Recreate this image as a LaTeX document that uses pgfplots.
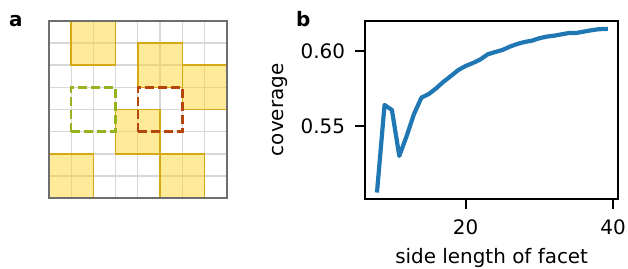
\documentclass[border=0pt]{standalone}
\usepackage{fontspec}
\setmainfont{DejaVu Sans}
\usepackage{pgfplots}
\pgfplotsset{compat=1.18}
\definecolor{sqfill}{RGB}{255,213,51}
\definecolor{sqedge}{RGB}{214,168,20}
\definecolor{gridc}{RGB}{215,215,215}
\definecolor{borderc}{RGB}{110,110,110}
\definecolor{dashgreen}{RGB}{150,180,30}
\definecolor{dashred}{RGB}{180,70,12}
\definecolor{mplblue}{HTML}{1F77B4}
\begin{document}
\begin{tikzpicture}[font=\fontsize{20}{24}\selectfont]
\path[use as bounding box] (0,0) rectangle (628bp,269bp);
\node[anchor=base west, inner sep=0pt] at (9bp,242.3bp) {\bfseries a};
\node[anchor=base west, inner sep=0pt] at (296bp,242.3bp) {\bfseries b};
% panel a
\begin{axis}[
  at={(49bp,70.7bp)}, anchor=south west, scale only axis,
  width=177.7bp, height=177.6bp,
  xmin=0, xmax=8, ymin=0, ymax=8,
  xtick={0,...,8}, ytick={0,...,8},
  xticklabels={}, yticklabels={},
  major tick length=0pt,
  grid=major,
  major grid style={line width=1.3bp, color=gridc},
  axis line style={line width=2bp, color=borderc},
  clip=false,
]
\addplot[fill=sqfill, fill opacity=0.5, draw=sqedge, line width=1.5bp] coordinates {(1,6) (3,6) (3,8) (1,8)} -- cycle;
\addplot[fill=sqfill, fill opacity=0.5, draw=sqedge, line width=1.5bp] coordinates {(4,5) (6,5) (6,7) (4,7)} -- cycle;
\addplot[fill=sqfill, fill opacity=0.5, draw=sqedge, line width=1.5bp] coordinates {(6,4) (8,4) (8,6) (6,6)} -- cycle;
\addplot[fill=sqfill, fill opacity=0.5, draw=sqedge, line width=1.5bp] coordinates {(3,2) (5,2) (5,4) (3,4)} -- cycle;
\addplot[fill=sqfill, fill opacity=0.5, draw=sqedge, line width=1.5bp] coordinates {(0,0) (2,0) (2,2) (0,2)} -- cycle;
\addplot[fill=sqfill, fill opacity=0.5, draw=sqedge, line width=1.5bp] coordinates {(5,0) (7,0) (7,2) (5,2)} -- cycle;
\addplot[draw=dashgreen, line width=2.5bp, dash pattern=on 9bp off 4bp] coordinates {(1,3) (3,3) (3,5) (1,5)} -- cycle;
\addplot[draw=dashred, line width=2.5bp, dash pattern=on 9bp off 4bp] coordinates {(4,3) (6,3) (6,5) (4,5)} -- cycle;
\addplot[draw=borderc, line width=2bp] coordinates {(0,0) (8,0) (8,8) (0,8)} -- cycle;
\end{axis}
% panel b
\begin{axis}[
  at={(365bp,70bp)}, anchor=south west, scale only axis,
  width=253.3bp, height=178.3bp,
  xmin=6.35, xmax=40.7, ymin=0.5013, ymax=0.6202,
  xtick={20,40}, ytick={0.55,0.60},
  /pgf/number format/assume math mode=true,
  yticklabel style={/pgf/number format/fixed, /pgf/number format/fixed zerofill, /pgf/number format/precision=2},
  tick align=outside,
  xtick pos=bottom, ytick pos=left,
  major tick length=9.7bp,
  every tick/.style={line width=2.2bp, black},
  axis line style={line width=2.2bp},
  xticklabel style={anchor=north, inner sep=0pt, yshift=-11bp},
  yticklabel style={anchor=east, inner sep=0pt, xshift=-10bp},
  xlabel={side length of facet},
  ylabel={coverage},
  label style={font=\fontsize{21}{25}\selectfont},
  every axis x label/.style={at={(axis description cs:0.5,-0.364)}, anchor=base},
  every axis y label/.style={at={(axis description cs:-0.3237,0.5)}, rotate=90, anchor=base},
]
\addplot[color=mplblue, line width=4.2bp, line join=round, line cap=rect] coordinates {
(8,0.5070) (9,0.5640) (10,0.5607) (11,0.5300) (12,0.5433) (13,0.5580)
(14,0.5689) (15,0.5713) (16,0.5751) (17,0.5795) (18,0.5833) (19,0.5873)
(20,0.5900) (21,0.5920) (22,0.5944) (23,0.5978) (24,0.5993) (25,0.6007)
(26,0.6029) (27,0.6047) (28,0.6060) (29,0.6069) (30,0.6085) (31,0.6096)
(32,0.6102) (33,0.6111) (34,0.6120) (35,0.6120) (36,0.6129) (37,0.6138)
(38,0.6145) (39,0.6147)
};
\end{axis}
\end{tikzpicture}
\end{document}
